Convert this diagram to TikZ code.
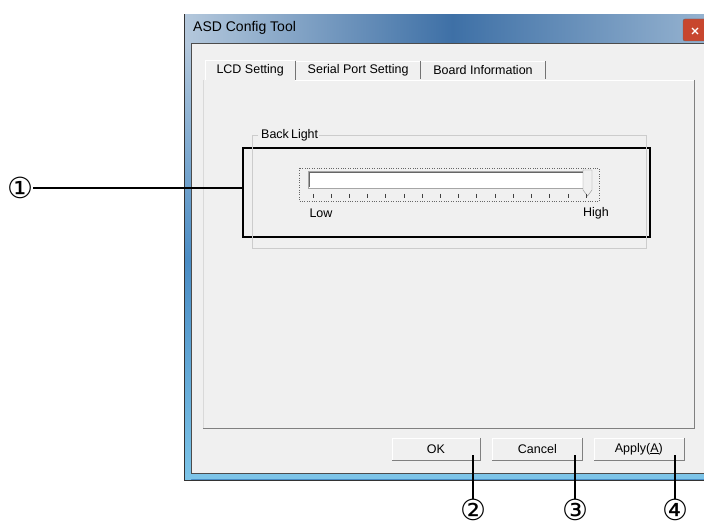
\documentclass[tikz,border=0pt]{standalone}
\usepackage{fontspec}
\setmainfont{Liberation Sans}
\newfontfamily\symfont{DejaVu Sans}
\usetikzlibrary{positioning}

\definecolor{winbg}{HTML}{F0F0F0}
\definecolor{titleL}{HTML}{B4C8DC}
\definecolor{titleM}{HTML}{3E70A6}
\definecolor{titleR}{HTML}{9AB6D2}
\definecolor{frameblue}{HTML}{4A8CC4}
\definecolor{frameL}{HTML}{7CC4E8}
\definecolor{closered}{HTML}{C8462E}

\begin{document}
\begin{tikzpicture}[
      x=1pt,
      y=-1pt,
      ui/.style={
          font=\fontsize{12.5}{14}\selectfont,
          inner sep=0pt
        },
      wintitle/.style={
          font=\fontsize{14}{16}\selectfont,
          inner sep=0pt,
          anchor=west
        },
      tab/.style={
          ui,
          anchor=south west,
          minimum height=19pt,
          fill=winbg
        },
      tabedge/.style={
          draw=black!55,
          line width=1pt
        },
      button/.style={
          ui,
          fill=winbg,
          draw=white,
          minimum width=88pt,
          minimum height=22pt
        },
      btnshade/.style={
          draw=black!50,
          line width=1pt
        },
      hilite/.style={
          draw=black,
          line width=2.5pt,
          minimum width=407pt,
          minimum height=89pt
        },
      num/.style={
          font=\symfont\fontsize{29}{29}\selectfont,
          inner sep=0pt
        },
      callout/.style={
          line width=2pt
        }
    ]
    \useasboundingbox (0,0) rectangle (704,529);
    \clip (0,0) rectangle (704,529);
    \fill[white] (0,0) rectangle (704,529);

    % Window
    \draw[fill=frameblue, draw=black!80] (184,14) rectangle (720,480);
    \shade[left color=titleL, right color=titleR, middle color=titleM] (185,15) rectangle (720,43);
    \shade[top color=titleL, bottom color=frameL, middle color=frameblue] (185,43) rectangle (191,479);
    \fill[frameL] (185,474) rectangle (720,479);
    \draw[fill=winbg, draw=black!70] (191,43) rectangle (720,473);
    \draw[fill=closered, draw=black!60, rounded corners=2pt] (683,19) rectangle (726,41);
    \draw[white, line width=1.3pt] (692,28) -- (698,34) (692,34) -- (698,28);

    % Tab panel
    \fill[winbg] (203,80) rectangle (694,428);
    \draw[white!85!black] (203,428) -- (203,80);
    \draw[black!50, line width=1pt] (694,80) -- (694,428) -- (203,428);

    % Nodes
    \node[wintitle] (title) at (193,28) {ASD Config Tool};
    \node[tab, minimum width=90pt] (tlcd) at (205,80) {LCD Setting};
    \node[tab, minimum width=125pt, right=0pt of tlcd, minimum height=18pt] (tser) {Serial Port Setting};
    \node[tab, minimum width=124pt, right=0pt of tser, minimum height=18pt] (tboard) {Board Information};
    \node[ui, fill=winbg, inner xsep=1pt, anchor=west] (bl) at (260,135) {Back\,Light};
    \node[ui] (low) at (321,213) {Low};
    \node[ui] (high) at (596,213) {High};
    \node[hilite] (hl) at (446.5,192.5) {};
    \node[button] (ok) at (436,449) {OK};
    \node[button, minimum width=90pt, right=12pt of ok] (cancel) {Cancel};
    \node[button, minimum width=90pt, right=11pt of cancel] (apply) {Apply(\underline{A})};
    \node[num] (c1) at (20,188) {①};
    \node[num] (c2) at (473,510) {②};
    \node[num] (c3) at (575,510) {③};
    \node[num] (c4) at (675,510) {④};

    % Tab edges
    \draw[white] (tlcd.south west) -- (tlcd.north west) -- (tlcd.north east);
    \draw[white] (tser.north west) -- (tser.north east) (tboard.north west) -- (tboard.north east);
    \draw[white] (tlcd.south east) -- (694,80);
    \foreach \t in {tlcd,tser,tboard}
      \draw[tabedge] (\t.north east) -- (\t.south east);

    % Group box and slider
    \draw[black!20] (258,135) -- (252,135) -- (252,248) -- (646,248) -- (646,135) -- (bl.east);
    \draw[dotted, black!60] (299,168) rectangle (599,201);
    \draw[fill=white, draw=black!35] (308,171) rectangle (590,188);
    \draw[black!60] (309,187) -- (309,172) -- (589,172);
    \draw[fill=winbg, draw=black!45] (583,170) -- (592,170) -- (592,190) -- (587.5,196) -- (583,190) -- cycle;
    \foreach \i in {0,...,15}
      \draw[black!75] ({312.7+18.22*\i},194) -- ++(0,4);

    % Buttons
    \foreach \b in {ok,cancel,apply}
      \draw[btnshade] (\b.north east) -- (\b.south east) -- (\b.south west);

    % Callouts
    \draw[callout] (c1.east) -- (c1 -| hl.west);
    \draw[callout] (c2.north) -- ([yshift=5pt]c2.north |- ok.south);
    \draw[callout] (c3.north) -- ([yshift=5pt]c3.north |- cancel.south);
    \draw[callout] (c4.north) -- ([yshift=5pt]c4.north |- apply.south);
  \end{tikzpicture}
\end{document}
